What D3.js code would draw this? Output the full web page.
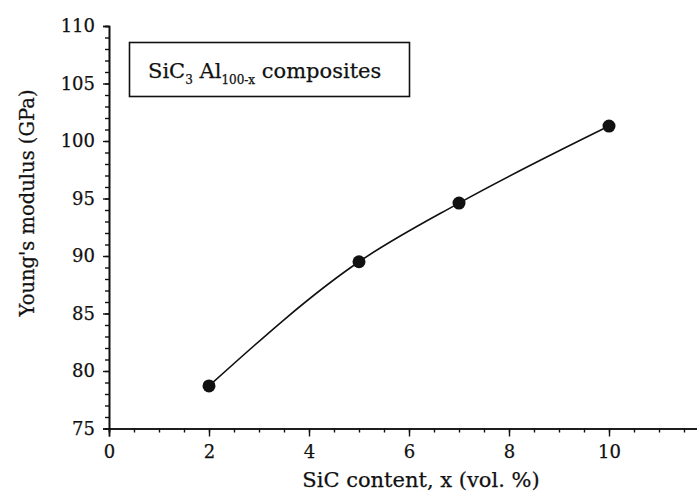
<!DOCTYPE html>
<html>
<head>
<meta charset="utf-8">
<script src="https://cdn.jsdelivr.net/npm/d3@7"></script>
<style>
  body { margin: 0; background: #fff; }
  text { font-family: 'DejaVu Serif', serif; fill: #111; stroke: #111; stroke-width: 0.25; }
</style>
</head>
<body>
<svg width="697" height="495"></svg>
<script>
// data
const sicContent = [2, 5, 7, 10]
const youngsModulus = [78.7, 89.5, 94.6, 101.3]
const xTickLabels = [0, 2, 4, 6, 8, 10]
const yTickLabels = [75, 80, 85, 90, 95, 100, 105, 110]

const data = sicContent.map((x, i) => ({ x, y: youngsModulus[i] }))

const svg = d3.select('svg')
svg.append('rect').attr('width', 697).attr('height', 495).attr('fill', '#fff')

const xScale = d3.scaleLinear()
  .domain([0, 11.8])
  .range([109, 699])

const yScale = d3.scaleLinear()
  .domain([75, 110])
  .range([428.5, 26])

// x axis: minor ticks every 0.5, major every 2
const xMinor = d3.axisBottom(xScale)
  .tickValues(d3.range(0, 11.6, 0.5))
  .tickSize(4)
  .tickFormat('')
const xMajor = d3.axisBottom(xScale)
  .tickValues(xTickLabels)
  .tickSize(8)
  .tickPadding(9)
  .tickFormat(d3.format('d'))

const xAxisG = svg.append('g').attr('transform', `translate(0, ${yScale(75)})`)
xAxisG.append('g').call(xMinor)
xAxisG.append('g').call(xMajor)
xAxisG.selectAll('.domain').attr('stroke-width', 1.6)

// y axis: minor every 1, major every 5
const yMinor = d3.axisLeft(yScale)
  .tickValues(d3.range(75, 110.5, 1))
  .tickSize(4)
  .tickFormat('')
const yMajor = d3.axisLeft(yScale)
  .tickValues(yTickLabels)
  .tickSize(6)
  .tickPadding(8)
  .tickFormat(d3.format('d'))

const yAxisG = svg.append('g').attr('transform', `translate(${xScale(0)}, 0)`)
yAxisG.append('g').call(yMinor)
yAxisG.append('g').call(yMajor)
yAxisG.selectAll('.domain').attr('stroke-width', 1.6)

svg.selectAll('.tick line').attr('stroke', '#111').attr('stroke-width', 1.4)
svg.selectAll('.domain').attr('stroke', '#111')
svg.selectAll('.tick text')
  .style('font-family', "'DejaVu Serif', serif")
  .style('font-size', '18px')
  .attr('fill', '#111')

// axis titles
svg.append('text')
  .attr('x', 421)
  .attr('y', 487)
  .attr('text-anchor', 'middle')
  .style('font-size', '21px')
  .text('SiC content, x (vol. %)')

svg.append('text')
  .attr('transform', 'translate(34, 203) rotate(-90)')
  .attr('text-anchor', 'middle')
  .style('font-size', '19.5px')
  .text("Young's modulus (GPa)")

// fitted curve and points
const line = d3.line()
  .x(d => xScale(d.x))
  .y(d => yScale(d.y))
  .curve(d3.curveMonotoneX)

svg.append('path')
  .datum(data)
  .attr('d', line)
  .attr('fill', 'none')
  .attr('stroke', '#111')
  .attr('stroke-width', 1.6)

svg.selectAll('circle').data(data)
  .enter().append('circle')
  .attr('cx', d => xScale(d.x))
  .attr('cy', d => yScale(d.y))
  .attr('r', 6.5)
  .attr('fill', '#111')

// legend box
svg.append('rect')
  .attr('x', 129.5)
  .attr('y', 42.5)
  .attr('width', 280)
  .attr('height', 54)
  .attr('fill', '#fff')
  .attr('stroke', '#111')
  .attr('stroke-width', 1.6)

const label = svg.append('text')
  .attr('x', 148)
  .attr('y', 78)
  .style('font-size', '21px')
label.append('tspan').text('SiC')
label.append('tspan').attr('dy', 6).style('font-size', '12px').text('3')
label.append('tspan').attr('dy', -6).text(' Al')
label.append('tspan').attr('dy', 6).style('font-size', '12px').text('100-x')
label.append('tspan').attr('dy', -6).text(' composites')
</script>
</body>
</html>
